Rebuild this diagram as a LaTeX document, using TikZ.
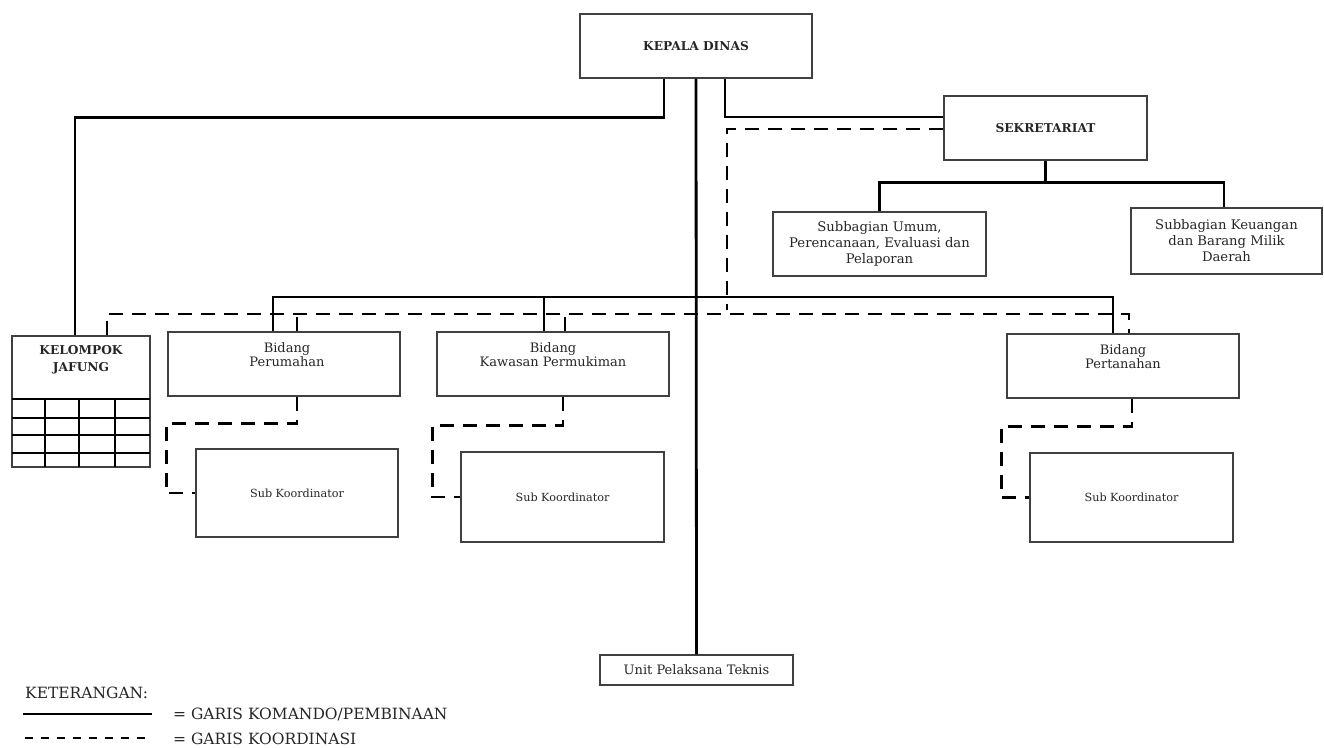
\documentclass[tikz,border=0pt]{standalone}
\usepackage{fontspec}
\setmainfont{DejaVu Serif}
\usetikzlibrary{positioning, calc}
\newcommand\judul{\fontsize{12.2}{17}\selectfont\bfseries}
\newcommand\isi{\fontsize{13}{14}\selectfont}
\newcommand\subisi{\fontsize{13.2}{16}\selectfont}
\newcommand\kecil{\fontsize{11.2}{14}\selectfont}
\newcommand\ket{\fontsize{15.5}{18}\selectfont}

\begin{document}
\begin{tikzpicture}[x=1pt, y=-1pt,
  box/.style={draw=black!75, line width=1.1pt, fill=white, inner sep=0pt, align=center, text=black!85},
  komando/.style={line width=2.8pt},
  koordinasi/.style={line width=2.8pt, dash pattern=on 14pt off 9pt},
  txt/.style={align=center, inner sep=0pt, text=black!85}]
\useasboundingbox (0,0) rectangle (1324,747);

% kepala dan sekretariat
\node[box, minimum width=232pt, minimum height=64pt, font=\judul] (kd) at (696,46) {KEPALA DINAS};
\node[box, minimum width=203pt, minimum height=64pt, font=\judul] (sek) at (1045.5,128) {SEKRETARIAT};
\node[box, minimum width=213pt, minimum height=64pt, font=\subisi] (sbu) at (879.5,244) {Subbagian Umum,\\Perencanaan, Evaluasi dan\\Pelaporan};
\node[box, minimum width=191pt, minimum height=66pt, font=\subisi] (sbk) at (1226.5,241) {Subbagian Keuangan\\dan Barang Milik\\Daerah};

% kelompok jafung
\node[box, minimum width=138pt, minimum height=131pt] (kj) at (81,401.5) {};
\node[txt, font=\judul] (kjt) at (81,359.5) {KELOMPOK\\JAFUNG};
\draw[line width=1.3pt] (12,399) -- (150,399);
\foreach \y in {418,435,453} \draw[line width=1.3pt] (12,\y) -- (150,\y);
\foreach \x in {45,79,115} \draw[line width=1.3pt] (\x,399) -- (\x,467);

% bidang
\node[box, minimum width=232pt, minimum height=64pt] (bp) at (284,364) {};
\node[txt, font=\isi] (bpt) at (287,355) {Bidang\\Perumahan};
\node[box, minimum width=232pt, minimum height=64pt] (bk) at (553,364) {};
\node[txt, font=\isi] (bkt) at (553,355) {Bidang\\Kawasan Permukiman};
\node[box, minimum width=232pt, minimum height=64pt] (bt) at (1123,366) {};
\node[txt, font=\isi] (btt) at (1123,357) {Bidang\\Pertanahan};

% sub koordinator
\node[box, minimum width=202pt, minimum height=88pt, font=\kecil] (sp) at (297,493) {Sub Koordinator};
\node[box, minimum width=203pt, minimum height=90pt, font=\kecil] (sw) at (562.5,497) {Sub Koordinator};
\node[box, minimum width=203pt, minimum height=89pt, font=\kecil] (st) at (1131.5,497.5) {Sub Koordinator};

\node[box, minimum width=193pt, minimum height=30pt, font=\isi] (upt) at (696.5,670) {Unit Pelaksana Teknis};

% garis komando
\draw[komando] (kd.south) -- (upt.north);
\draw[komando] ([xshift=-32pt]kd.south) -- ++(0,39) -| ([xshift=-6pt]kj.north);
\draw[komando] ([xshift=29pt]kd.south) |- ([yshift=11pt]sek.west);
\draw[komando] (sek.south) -- ++(0,22) coordinate (sb);
\draw[komando] (sbu.north) |- (sb) -| ([xshift=-2.5pt]sbk.north);
\coordinate (bus) at (696,297);
\draw[komando] ([xshift=-11pt]bp.north) |- (bus) -| ([xshift=-10pt]bt.north);
\draw[komando] ([xshift=-9pt]bk.north) -- ++(0,-35);

% garis koordinasi
\coordinate (dbus) at (727,314);
\draw[koordinasi] ([xshift=26pt]kj.north) |- (dbus) -| ([xshift=6pt]bt.north);
\draw[koordinasi] ([xshift=13pt]bp.north) -- ++(0,-18);
\draw[koordinasi] ([xshift=12pt]bk.north) -- ++(0,-18);
\draw[koordinasi] ([yshift=-1pt]sek.west) -| ([yshift=4pt]dbus);
\draw[koordinasi] ([xshift=13pt]bp.south) -- ++(0,27) -| ([xshift=-29pt]sp.west) -- (sp.west);
\draw[koordinasi] ([xshift=10pt]bk.south) -- ++(0,29) -| ([xshift=-28pt]sw.west) -- (sw.west);
\draw[koordinasi] ([xshift=9pt]bt.south) -- ++(0,28) -| ([xshift=-28pt]st.west) -- (st.west);

% keterangan
\node[txt, anchor=west, font=\ket] (ket) at (25,693) {KETERANGAN:};
\draw[line width=2.8pt] (23,714) -- (152,714);
\node[txt, anchor=west, font=\ket] (kom) at (173,714) {= GARIS KOMANDO/PEMBINAAN};
\draw[line width=2.8pt, dash pattern=on 8pt off 8pt] (25,738) -- (148,738);
\node[txt, anchor=west, font=\ket] (koo) at (173,739) {= GARIS KOORDINASI};
\end{tikzpicture}
\end{document}
